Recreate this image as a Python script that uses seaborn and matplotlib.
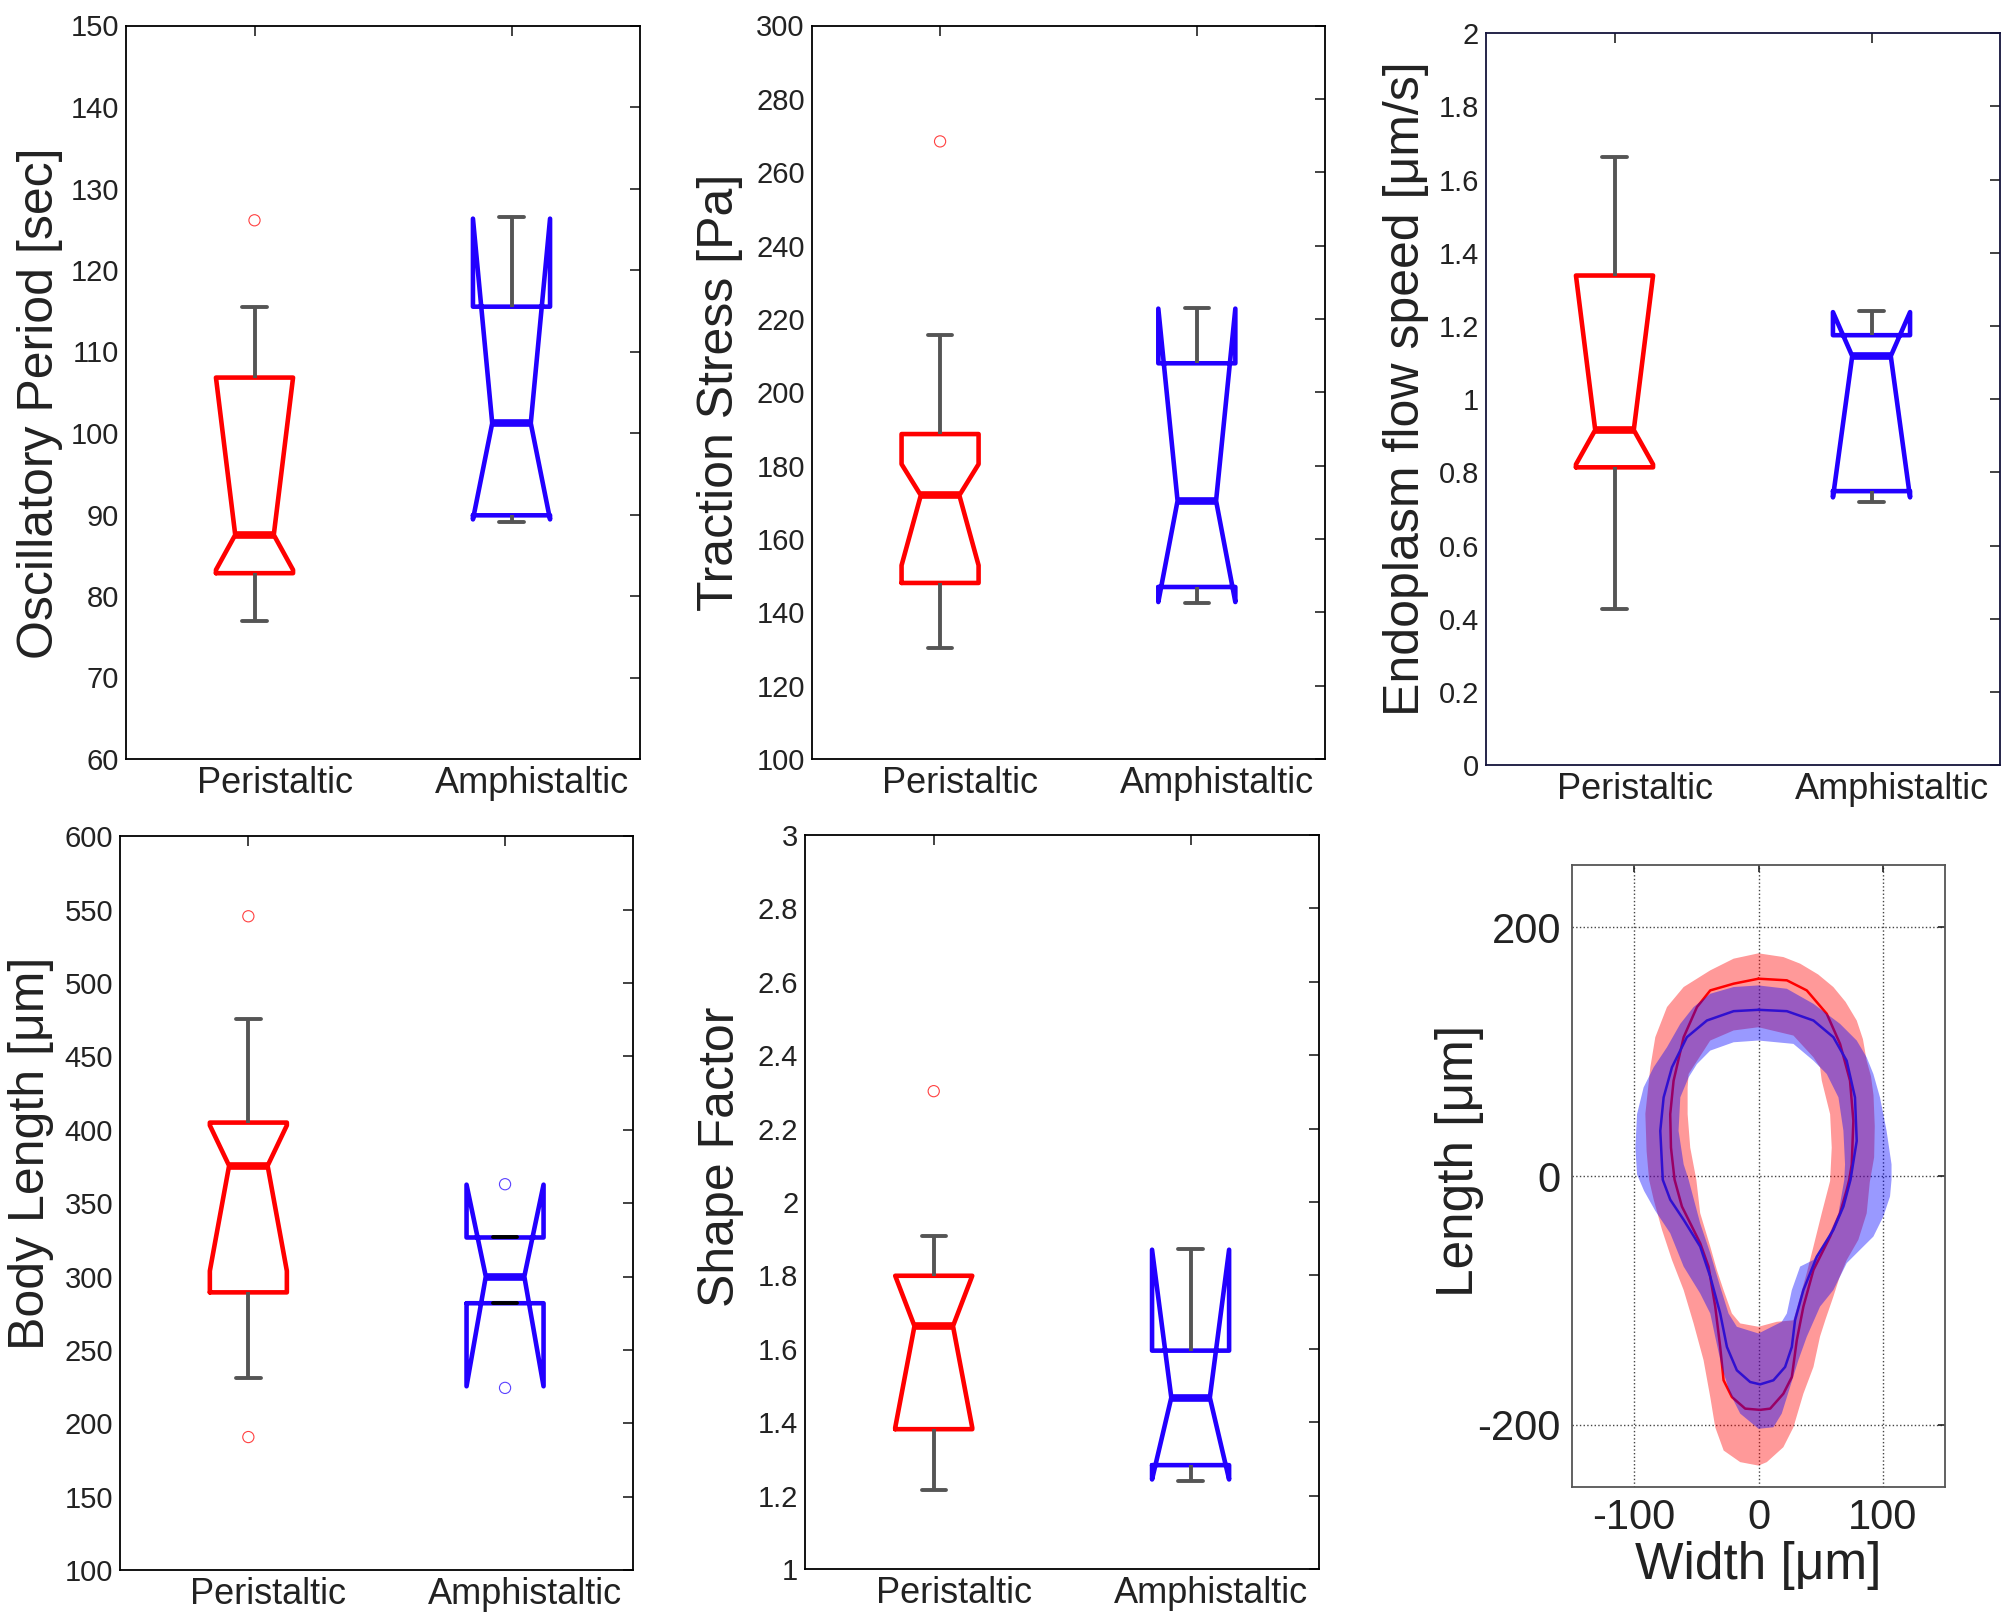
import matplotlib
matplotlib.use('Agg')
import matplotlib.pyplot as plt
import matplotlib.transforms as mtransforms
from matplotlib.path import Path
from matplotlib.patches import PathPatch
from matplotlib.ticker import FuncFormatter
import numpy as np
import seaborn as sns

sns.set_style('white')
plt.rcParams['font.family'] = ['Liberation Sans', 'DejaVu Sans']
plt.rcParams['axes.unicode_minus'] = False

groups = ['Peristaltic', 'Amphistaltic']
box_colors = ['#ff0000', '#2200ff']

# Oscillatory period [sec]
period_q1 = [82.8, 89.9]
period_med = [87.5, 101.2]
period_q3 = [106.8, 115.5]
period_ci_lo = [83.2, 89.4]
period_ci_hi = [106.8, 126.3]
period_whis_lo = [76.9, 89.1]
period_whis_hi = [115.5, 126.5]
period_fliers = [[126.1], []]

# Traction stress [Pa]
stress_q1 = [148.0, 146.9]
stress_med = [171.9, 170.4]
stress_q3 = [188.6, 207.9]
stress_ci_lo = [152.8, 142.8]
stress_ci_hi = [180.4, 222.8]
stress_whis_lo = [130.3, 142.4]
stress_whis_hi = [215.6, 223.1]
stress_fliers = [[268.4], []]

# Endoplasm flow speed [um/s]
flow_q1 = [0.814, 0.749]
flow_med = [0.916, 1.118]
flow_q3 = [1.338, 1.175]
flow_ci_lo = [0.822, 0.732]
flow_ci_hi = [1.338, 1.238]
flow_whis_lo = [0.428, 0.718]
flow_whis_hi = [1.661, 1.242]
flow_fliers = [[], []]

# Body length [um]
length_q1 = [289.2, 281.8]
length_med = [375.5, 300.0]
length_q3 = [404.9, 326.6]
length_ci_lo = [303.8, 225.2]
length_ci_hi = [403.0, 362.6]
length_whis_lo = [230.8, 281.8]
length_whis_hi = [475.2, 326.6]
length_fliers = [[545.5, 190.6], [362.9, 224.1]]

# Shape factor
shape_q1 = [1.381, 1.283]
shape_med = [1.662, 1.467]
shape_q3 = [1.799, 1.595]
shape_ci_lo = [1.385, 1.244]
shape_ci_hi = [1.799, 1.870]
shape_whis_lo = [1.215, 1.240]
shape_whis_hi = [1.906, 1.871]
shape_fliers = [[2.302], []]

# average cell outlines (x, y in um): band edges and mean contour
red_outer = [(0, 179), (20, 176), (33.5, 170.7), (48, 162), (60.2, 151.9), (70, 140), (79, 125),
             (84, 110), (87, 92.7), (90.5, 80), (92.5, 65), (93.5, 40), (93, 15), (89.5, -5),
             (87, -30), (80.3, -51.3), (71, -67.5), (65, -82), (60.2, -97), (54, -115),
             (49.5, -129), (44.2, -153.5), (36.1, -175), (28.1, -202), (20, -218), (6.7, -230),
             (0, -232.8), (-14.7, -230), (-28, -220.7), (-34.8, -202), (-38.8, -177.7),
             (-44.2, -148), (-52.2, -118.5), (-60.2, -91.7), (-69.6, -67.5), (-77.6, -43.3),
             (-84.3, -19), (-88, -3), (-90, 20), (-91, 50), (-87, 87.4), (-83, 111.6),
             (-73.6, 135.8), (-60.2, 151.9), (-38.8, 165.3), (-20, 174.7)]
red_inner = [(0, 119.6), (28.1, 112.9), (44.2, 95.4), (49.5, 87.4), (50.9, 76.6), (57.6, 49.7),
             (58.9, 22.8), (57.6, -4), (50.9, -29.8), (44.2, -56.7), (38.8, -78), (33.5, -97),
             (28.1, -116), (14.7, -117.2), (0, -121.2), (-14.7, -118.5), (-21.4, -110.5),
             (-28.1, -91.7), (-33.5, -75.5), (-38.8, -56.7), (-46.9, -29.8), (-50, -3),
             (-54.9, 22.8), (-57, 49.7), (-57, 71.2), (-56.2, 82), (-38.8, 108.9), (-20, 117)]
blue_outer = [(0, 153.2), (22.8, 150.5), (44.2, 138.4), (65.6, 122.3), (79, 108.9), (87, 95.4),
              (92.4, 82), (97.7, 63.2), (103, 36.3), (107, 9.4), (107, -3), (105.8, -16.4),
              (100.4, -32.5), (92.4, -48.7), (81.6, -59.4), (71, -70), (60.2, -91.7),
              (49.5, -105), (38.8, -129.3), (32.1, -148), (25.4, -169.6), (18.7, -191),
              (12, -202), (0, -203.2), (-14.7, -191), (-22.8, -175), (-29.5, -153.5),
              (-34.8, -129.3), (-38.8, -110.5), (-46.9, -94.4), (-60.2, -72.8), (-71, -46),
              (-83, -28), (-92, -12), (-97.7, 1.3), (-99, 22.8), (-97.7, 49.7), (-92.4, 71.2),
              (-84.3, 87.4), (-73.6, 103.5), (-62.9, 122.3), (-52.2, 135.8), (-38.8, 146.5),
              (-20, 151.9)]
blue_inner = [(0, 108.9), (28.1, 106.2), (44.2, 92.7), (54.9, 82), (64.3, 63.2), (68.3, 36.3),
              (69.6, 9.4), (69, -3), (64.3, -30), (54.9, -51.3), (44.2, -67.5), (33.5, -72.8),
              (26.8, -91.7), (22.8, -110.5), (18.7, -117.2), (0, -126.6), (-17.4, -121.2),
              (-24.1, -110.5), (-30.8, -89), (-38.8, -62), (-46.9, -38), (-56.2, -3),
              (-60.2, 9.4), (-64.3, 36.3), (-62.9, 63.2), (-56.2, 79.3), (-49.5, 90),
              (-38.8, 100.8), (-20, 107.5)]
red_mean = [(0, 158.6), (22.8, 157.3), (38.8, 149.2), (54.9, 130.4), (65.6, 106.2), (73.6, 76.6),
            (76.3, 44.4), (75, 9.4), (73, -3), (71, -11), (65.6, -29.8), (57.6, -48.7),
            (44.2, -75.5), (36.1, -105), (30.8, -132), (26.8, -161.6), (20, -175), (9.4, -187),
            (1.3, -188), (-10.7, -187), (-21.4, -177.7), (-28.1, -164.2), (-30.8, -137.4),
            (-34.8, -105), (-40.2, -72.8), (-46.9, -54), (-61.6, -24.5), (-67.5, -3),
            (-70.4, 22.8), (-71, 49.7), (-68.3, 76.6), (-60.2, 111.6), (-49.5, 135.8),
            (-38.8, 149.2), (-20, 154.6), (0, 158.6)]
blue_mean = [(0, 133.6), (22.8, 132.5), (44.2, 125), (60.2, 111.6), (70.9, 92.7), (77.6, 63.2),
             (79, 28.2), (74, -3), (68.3, -24.5), (60.2, -43.3), (46.9, -64.8), (36.1, -91.7),
             (29.4, -115.9), (26.8, -137.4), (21.4, -153.5), (12, -164.2), (1.3, -167.5),
             (-6.7, -165.6), (-17.4, -156.2), (-25.4, -137.4), (-30.8, -110.5), (-38.8, -80.9),
             (-46.9, -56.7), (-60.2, -35.2), (-71, -19), (-77, -3), (-79, 36.3), (-76.3, 63.2),
             (-69.6, 87.4), (-57.6, 111.6), (-41.5, 125), (-20, 132.5), (0, 133.6)]
shape_ticks = [-200, 0, 200]
width_ticks = [-100, 0, 100]

W, H = 2009, 1621
fig = plt.figure(figsize=(W / 100, H / 100), dpi=100)


def rect(l, r, t, b):
    return [l / W, 1 - b / H, (r - l) / W, (b - t) / H]


def style_axes(ax, spine_color='black'):
    for s in ax.spines.values():
        s.set_visible(True)
        s.set_color(spine_color)
        s.set_linewidth(1.3)
    ax.tick_params(direction='in', top=True, right=True, length=7, width=1.2, colors='#222222')


def notched_panel(pos, q1, med, q3, ci_lo, ci_hi, wlo, whi, fliers, ylim, step, ylabel,
                  label_xy, spine_color='black', black_caps=False):
    ax = fig.add_axes(pos)
    stats = [dict(q1=q1[i], med=med[i], q3=q3[i], cilo=ci_lo[i], cihi=ci_hi[i],
                  whislo=wlo[i], whishi=whi[i], fliers=[], label=groups[i]) for i in range(2)]
    art = ax.bxp(stats, positions=[1, 2], widths=0.3, capwidths=0.095, shownotches=True,
                 showfliers=False,
                 whiskerprops=dict(color='#555555', lw=2.8, solid_capstyle='butt'),
                 capprops=dict(color='#555555', lw=2.8),
                 boxprops=dict(lw=3.3), medianprops=dict(lw=5.5))
    for i, c in enumerate(box_colors):
        art['boxes'][i].set_color(c)
        art['medians'][i].set_color(c)
    if black_caps:
        art['caps'][2].set_color('black')
        art['caps'][3].set_color('black')
    for i, f in enumerate(fliers):
        if not f:
            continue
        sns.scatterplot(x=[i + 1] * len(f), y=f, marker='o', s=65, ax=ax)
        coll = ax.collections[-1]
        coll.set_facecolor('none')
        coll.set_edgecolor(box_colors[i])
        coll.set_linewidth(0.8)
        coll.set_alpha(0.75)
    ax.set_xlim(0.5, 2.5)
    ax.set_ylim(*ylim)
    ax.set_yticks(np.arange(ylim[0], ylim[1] + step / 2, step))
    ax.yaxis.set_major_formatter(FuncFormatter(lambda v, _: f'{round(v, 6):g}'))
    ax.set_xticks([1, 2])
    ax.set_xticklabels(groups)
    style_axes(ax, spine_color)
    ax.tick_params(axis='y', labelsize=21, pad=5)
    ax.tick_params(axis='x', labelsize=26, pad=5)
    shift = mtransforms.ScaledTranslation(0.2, 0, fig.dpi_scale_trans)
    for lab in ax.get_xticklabels():
        lab.set_transform(lab.get_transform() + shift)
    ax.set_ylabel(ylabel, fontsize=36, color='#222222')
    ax.yaxis.set_label_coords(*label_xy)
    return ax


notched_panel(rect(126, 640, 25.5, 759), period_q1, period_med, period_q3, period_ci_lo,
              period_ci_hi, period_whis_lo, period_whis_hi, period_fliers, (60, 150), 10,
              'Oscillatory Period [sec]', (-0.122, 0.485))
notched_panel(rect(811.7, 1325.2, 25.5, 759), stress_q1, stress_med, stress_q3, stress_ci_lo,
              stress_ci_hi, stress_whis_lo, stress_whis_hi, stress_fliers, (100, 300), 20,
              'Traction Stress [Pa]', (-0.134, 0.5))
notched_panel(rect(1486, 2000, 33.2, 765.3), flow_q1, flow_med, flow_q3, flow_ci_lo,
              flow_ci_hi, flow_whis_lo, flow_whis_hi, flow_fliers, (0, 2), 0.2,
              'Endoplasm flow speed [μm/s]', (-0.11, 0.514), spine_color='#14143c')
notched_panel(rect(120, 633.4, 836.3, 1570), length_q1, length_med, length_q3, length_ci_lo,
              length_ci_hi, length_whis_lo, length_whis_hi, length_fliers, (100, 600), 50,
              'Body Length [μm]', (-0.128, 0.568), black_caps=True)
notched_panel(rect(805.3, 1319, 835, 1569), shape_q1, shape_med, shape_q3, shape_ci_lo,
              shape_ci_hi, shape_whis_lo, shape_whis_hi, shape_fliers, (1, 3), 0.2,
              'Shape Factor', (-0.119, 0.561))

# cell outline panel
ax6 = fig.add_axes(rect(1572, 1945, 865, 1487))


def band(ax, outer, inner, color, z):
    o = np.array(outer + outer[:1], dtype=float)
    i = np.array((inner + inner[:1])[::-1], dtype=float)
    verts = np.vstack([o, i])
    codes = ([Path.MOVETO] + [Path.LINETO] * (len(o) - 2) + [Path.CLOSEPOLY] +
             [Path.MOVETO] + [Path.LINETO] * (len(i) - 2) + [Path.CLOSEPOLY])
    ax.add_patch(PathPatch(Path(verts, codes), facecolor=color, edgecolor='none', alpha=0.4,
                           zorder=z))


band(ax6, red_outer, red_inner, '#ff0000', 2)
rm = np.array(red_mean)
sns.lineplot(x=rm[:, 0], y=rm[:, 1], sort=False, estimator=None, color='#ff0000', lw=1.8,
             ax=ax6, zorder=3)
band(ax6, blue_outer, blue_inner, '#0000ff', 4)
bm = np.array(blue_mean)
sns.lineplot(x=bm[:, 0], y=bm[:, 1], sort=False, estimator=None, color='#3010d0', lw=1.8,
             ax=ax6, zorder=5)

ax6.set_xlim(-150, 150)
ax6.set_ylim(-250, 250)
ax6.set_xticks(width_ticks)
ax6.set_yticks(shape_ticks)
ax6.xaxis.set_major_formatter(FuncFormatter(lambda v, _: f'{v:g}'))
ax6.yaxis.set_major_formatter(FuncFormatter(lambda v, _: f'{v:g}'))
ax6.grid(True, linestyle=':', color='#444444', lw=1.0)
ax6.set_axisbelow(True)
style_axes(ax6, '#555555')
ax6.tick_params(labelsize=30, length=5, pad=8)
ax6.set_xlabel('Width [μm]', fontsize=37, color='#222222', labelpad=2)
ax6.set_ylabel('Length [μm]', fontsize=37, color='#222222')
ax6.yaxis.set_label_coords(-0.237, 0.524)

fig.savefig('out.png', dpi=100)
